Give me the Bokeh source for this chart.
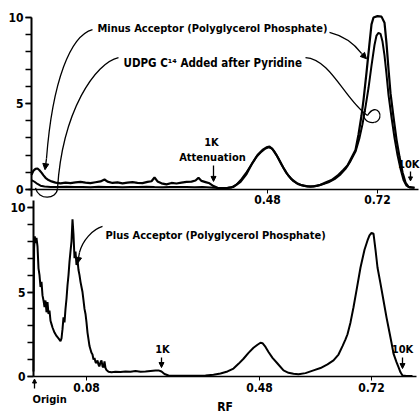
from bokeh.plotting import figure
from bokeh.models import (Range1d, FixedTicker, SingleIntervalTicker, Label, Arrow, NormalHead,
                          LinearAxis)
from bokeh.embed import file_html
from bokeh.resources import INLINE

FONT = "'DejaVu Sans Condensed', 'DejaVu Sans', sans-serif"

# ---------------- data (scan position in arbitrary units, counts scale 0-10) -------------
top_x_minus = [31, 33, 35, 37, 39, 41, 43, 45, 48, 51, 55, 60, 65, 70, 75, 80, 85, 90, 95, 100,
               104, 107, 112, 117, 122, 127, 132, 137, 142, 147, 151, 154, 157, 161, 166, 171,
               176, 181, 186, 191, 195, 198, 201, 205, 209, 213, 217, 222, 227, 233, 240, 246,
               252, 257, 262, 266, 269, 272, 276, 281, 286, 291, 296, 301, 307, 313, 319, 325,
               331, 337, 343, 347, 351, 355, 358, 361, 363, 366, 369, 371, 373, 377, 381, 384,
               386, 388, 390, 393, 396, 399, 402, 405, 408, 414]
top_minus = [0.85, 1.1, 1.2, 1.22, 1.12, 0.98, 0.82, 0.68, 0.55, 0.47, 0.40, 0.36, 0.40, 0.37,
             0.41, 0.44, 0.40, 0.37, 0.42, 0.47, 0.58, 0.46, 0.38, 0.41, 0.36, 0.40, 0.43, 0.39,
             0.37, 0.44, 0.48, 0.70, 0.47, 0.36, 0.30, 0.38, 0.35, 0.40, 0.44, 0.46, 0.52, 0.68,
             0.50, 0.43, 0.36, 0.20, 0.10, 0.08, 0.09, 0.15, 0.45, 0.9, 1.55, 2.0, 2.3, 2.45,
             2.5, 2.35, 2.0, 1.45, 0.95, 0.6, 0.38, 0.25, 0.18, 0.18, 0.25, 0.4, 0.55, 0.8, 1.15,
             1.4, 1.85, 2.3, 3.2, 4.3, 5.2, 6.8, 8.5, 9.6, 10.0, 10.08, 10.05, 9.7, 8.5, 7.0,
             5.6, 4.2, 2.9, 1.9, 1.0, 0.4, 0.15, 0.1]

top_x_udpg = [31, 34, 37, 40, 44, 50, 58, 66, 74, 82, 90, 98, 106, 114, 122, 130, 138, 146, 154,
              162, 170, 178, 186, 194, 202, 210, 218, 225, 231, 236, 241, 246, 251, 256, 261,
              265, 268, 271, 274, 278, 283, 288, 293, 298, 304, 310, 316, 322, 328, 334, 340,
              345, 350, 355, 359, 362, 365, 368, 371, 374, 376, 378, 380, 382, 384, 386, 388,
              391, 394, 397, 400, 403, 406, 409, 414]
top_udpg = [0.55, 0.45, 0.32, 0.22, 0.17, 0.15, 0.14, 0.16, 0.14, 0.15, 0.13, 0.16, 0.14, 0.15,
            0.13, 0.15, 0.14, 0.16, 0.14, 0.13, 0.15, 0.14, 0.15, 0.13, 0.14, 0.12, 0.09, 0.08,
            0.12, 0.28, 0.6, 1.0, 1.45, 1.9, 2.2, 2.38, 2.45, 2.4, 2.2, 1.8, 1.25, 0.8, 0.48,
            0.3, 0.2, 0.16, 0.2, 0.3, 0.42, 0.6, 0.88, 1.2, 1.65, 2.2, 3.0, 3.8, 4.8, 5.9, 7.2,
            8.4, 8.95, 9.1, 9.05, 8.6, 7.8, 6.7, 5.5, 4.2, 3.0, 2.0, 1.2, 0.55, 0.22, 0.12, 0.1]

bot_x = [33, 33.6, 34.3, 35, 36, 37, 38, 39, 40, 41, 42, 43, 44, 45, 46, 47, 48, 49, 50, 51, 52,
         54, 56, 58, 60, 61, 62, 63, 64, 65, 66, 67, 68, 69, 70, 71, 72, 73, 74, 75, 76, 77, 78,
         79, 80, 81, 82, 83, 84, 85, 86, 87, 88, 89, 90, 91, 92, 93, 94, 95, 96, 97, 98, 99,
         100, 101, 102, 103, 104, 105, 106, 108, 111, 115, 120, 125, 130, 135, 140, 145, 150,
         155, 158, 161, 164, 168, 175, 185, 195, 205, 213, 220, 227, 233, 238, 243, 248, 253,
         257, 260, 262, 265, 268, 272, 277, 283, 288, 293, 298, 305, 313, 320, 327, 333, 338,
         342, 345, 347, 350, 353, 356, 360, 364, 367, 369, 371, 373, 375, 377, 380, 383, 386,
         388, 391, 393, 396, 398, 400, 402, 406, 412]
bot_plus = [0.3, 7.6, 8.3, 7.9, 8.2, 7.7, 6.4, 6.0, 5.3, 5.6, 4.8, 4.5, 4.1, 4.5, 3.8, 4.4, 3.7,
            3.9, 3.3, 3.1, 2.9, 2.6, 2.4, 2.25, 2.1, 2.25, 2.8, 3.5, 3.2, 4.0, 4.6, 5.4, 6.0,
            6.8, 7.4, 8.0, 9.3, 8.4, 7.0, 7.4, 6.6, 6.9, 6.3, 6.0, 5.6, 5.3, 5.0, 4.5, 4.0, 3.7,
            3.2, 2.6, 2.2, 1.8, 1.6, 1.4, 1.3, 1.0, 1.1, 0.85, 0.8, 0.95, 0.7, 0.6, 0.85, 0.95,
            0.6, 0.55, 0.9, 0.5, 0.38, 0.28, 0.25, 0.28, 0.26, 0.3, 0.28, 0.32, 0.28, 0.3, 0.33,
            0.36, 0.36, 0.3, 0.15, 0.06, 0.04, 0.05, 0.04, 0.06, 0.1, 0.18, 0.3, 0.47, 0.75,
            1.05, 1.4, 1.7, 1.88, 2.0, 1.97, 1.75, 1.45, 1.1, 0.77, 0.36, 0.22, 0.16, 0.14, 0.2,
            0.36, 0.5, 0.72, 0.95, 1.3, 1.8, 2.2, 2.5, 3.2, 4.1, 5.1, 6.45, 7.5, 8.05, 8.35, 8.5,
            8.45, 7.5, 6.45, 5.5, 4.5, 3.5, 2.9, 2.0, 1.35, 0.85, 0.55, 0.25, 0.06, 0.03, 0.03]

top_tick_pos = [267, 377]
bot_tick_pos = [86, 259, 371]
rf_labels_top = ["0.48", "0.72"]
rf_labels_bot = ["0.08", "0.48", "0.72"]

# ---------------- one figure, two stacked panels (own y ranges) ----------------
p = figure(width=420, height=418, x_range=Range1d(0, 420), y_range=Range1d(-2.485, 22.25),
           output_backend="svg", toolbar_location=None,
           min_border_left=0, min_border_right=0, min_border_top=0, min_border_bottom=0)
p.extra_y_ranges = {"top": Range1d(-13.314, 10.988)}
p.outline_line_color = None
p.grid.visible = False

ax_bot_x = p.xaxis[0]
ax_bot_y = p.yaxis[0]
ax_top_x = LinearAxis(y_range_name="top")
ax_top_y = LinearAxis(y_range_name="top")
p.add_layout(ax_top_x, "below")
p.add_layout(ax_top_y, "left")

ax_bot_x.fixed_location = 0
ax_bot_y.fixed_location = 33
ax_top_x.fixed_location = 0
ax_top_y.fixed_location = 31
ax_bot_y.bounds = (0, 10.4)
ax_top_y.bounds = (-0.4, 10)
ax_bot_x.bounds = (33, 416)
ax_top_x.bounds = (28, 418)

for ya in (ax_bot_y, ax_top_y):
    ya.ticker = SingleIntervalTicker(interval=5, num_minor_ticks=5)
    ya.axis_line_width = 2
    ya.major_tick_in = 0
    ya.major_tick_out = 6
    ya.minor_tick_in = 0
    ya.minor_tick_out = 6
    ya.major_tick_line_width = 1.5
    ya.minor_tick_line_width = 1.5
    ya.major_label_standoff = 2

for xa, ticks, labels in ((ax_bot_x, bot_tick_pos, rf_labels_bot),
                          (ax_top_x, top_tick_pos, rf_labels_top)):
    xa.ticker = FixedTicker(ticks=ticks)
    xa.major_label_overrides = {t: l for t, l in zip(ticks, labels)}
    xa.axis_line_width = 1.5
    xa.major_tick_in = 0
    xa.major_tick_out = 4
    xa.minor_tick_out = 0
    xa.major_label_standoff = 2

for ax in (ax_bot_x, ax_bot_y, ax_top_x, ax_top_y):
    ax.major_label_text_font = FONT
    ax.major_label_text_font_style = "bold"
    ax.major_label_text_font_size = "12px"
    ax.major_label_text_color = "black"
    ax.axis_line_color = "black"
    ax.major_tick_line_color = "black"
    ax.minor_tick_line_color = "black"

ax_bot_x.axis_label = "RF"
ax_bot_x.axis_label_text_font = FONT
ax_bot_x.axis_label_text_font_style = "bold"
ax_bot_x.axis_label_text_font_size = "12px"
ax_bot_x.axis_label_text_color = "black"
ax_bot_x.axis_label_standoff = 5


def lab(x, y, text, align="left", size="11px", rng="default"):
    p.add_layout(Label(x=x, y=y, text=text, y_range_name=rng, text_font=FONT,
                       text_font_style="bold", text_font_size=size, text_align=align,
                       text_baseline="middle", text_color="black"))


def arr(x0, y0, x1, y1, size=6, rng="default"):
    p.add_layout(Arrow(x_start=x0, y_start=y0, x_end=x1, y_end=y1, y_range_name=rng,
                       line_width=1.3, line_color="black",
                       end=NormalHead(size=size, fill_color="black", line_color="black")))


# ---------------- top panel ----------------
p.line(top_x_minus, top_minus, line_color="black", line_width=2.2, y_range_name="top")
p.line(top_x_udpg, top_udpg, line_color="black", line_width=2.0, y_range_name="top")

lab(97, 9.36, "Minus  Acceptor (Polyglycerol Phosphate)", rng="top")
lab(123, 7.38, "UDPG  C\u00b9\u2074 Added after Pyridine", size="11.5px", rng="top")
lab(211, 2.73, "1K", align="center", rng="top")
lab(212, 1.86, "Attenuation", align="center", rng="top")
lab(419, 1.48, "10K", align="right", rng="top")
arr(213, 1.40, 213, 0.47, size=5, rng="top")
arr(410, 1.05, 410, 0.5, size=4, rng="top")

p.bezier(x0=[92, 329, 118, 57, 305, 367, 374], y0=[9.30, 9.13, 7.67, 0.06, 7.67, 4.30, 3.90],
         x1=[46, 361, 57, 35, 367, 374, 365], y1=[1.80, 7.91, 0.06, 0.10, 4.30, 3.90, 4.59],
         cx0=[70, 345, 95, 56, 330, 376, 366], cy0=[8.95, 8.90, 7.38, -0.60, 7.60, 5.17, 3.84],
         cx1=[52, 355, 62, 38, 345, 386, 360], cy1=[6.34, 8.37, 4.59, -0.65, 5.17, 4.13, 4.25],
         line_color="black", line_width=1.3, y_range_name="top")
arr(46, 1.8, 44.5, 1.15, rng="top")
arr(361, 7.91, 366, 7.6, rng="top")

# ---------------- bottom panel ----------------
p.line(bot_x, bot_plus, line_color="black", line_width=2.0)

lab(105, 8.34, "Plus Acceptor (Polyglycerol Phosphate)")
lab(162, 1.60, "1K", align="center")
lab(402, 1.60, "10K", align="center")
lab(32, -1.36, "Origin")
arr(161, 1.12, 161, 0.53, size=5)
arr(402, 1.12, 402, 0.47, size=5)
arr(34, -0.71, 34, -0.15, size=4)
p.bezier(x0=[102], y0=[8.88], x1=[79], y1=[7.34], cx0=[92], cy0=[8.70], cx1=[82], cy1=[8.05],
         line_color="black", line_width=1.3)
arr(79, 7.34, 77, 6.69)

open("out.html", "w").write(file_html(p, INLINE))
